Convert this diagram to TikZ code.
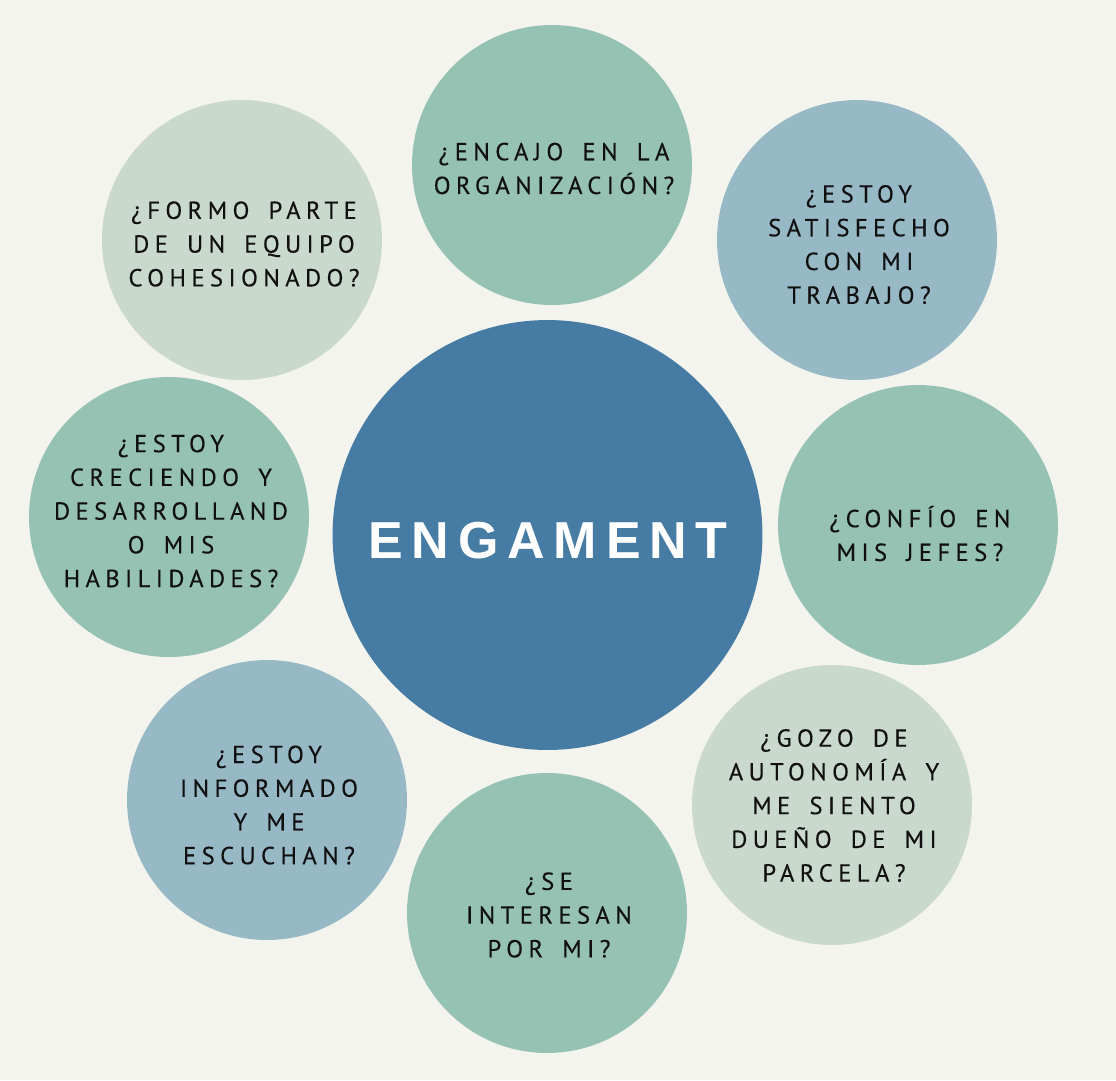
\documentclass[tikz,border=0pt]{standalone}
\usepackage{fontspec}
\setmainfont{PT Sans}
\newfontfamily\askfont[LetterSpace=22,WordSpace=1.6,FakeBold=0.3]{PT Sans}
\newfontfamily\titlefont[LetterSpace=17]{Liberation Sans}
\definecolor{paper}{HTML}{F3F4EE}
\definecolor{sage}{HTML}{96C2B4}
\definecolor{steel}{HTML}{97B9C5}
\definecolor{mist}{HTML}{CAD9CE}
\definecolor{core}{HTML}{467CA4}
\definecolor{ink}{HTML}{101010}
\begin{document}
\begin{tikzpicture}[x=0.02cm,y=-0.02cm,
    bubble/.style={circle,minimum size=5.6cm,inner sep=0pt},
    question/.style={align=center,text=ink,inner sep=0pt,
      font=\askfont\fontsize{14}{19.2}\selectfont}]
  \fill[paper] (0,0) rectangle (1116,1080);
  \node[circle,minimum size=8.6cm,inner sep=0pt,fill=core] (engament) at (547.5,535) {};
  \node[text=white,font=\titlefont\bfseries\fontsize{29.6}{34}\selectfont] (title) at (548,541) {ENGAMENT};
  \node[bubble,fill=sage] (encajo) at (552,165) {};
  \node[bubble,fill=steel] (trabajo) at (857,240) {};
  \node[bubble,fill=sage] (jefes) at (918,525) {};
  \node[bubble,fill=mist] (autonomia) at (832,805) {};
  \node[bubble,fill=sage] (interesan) at (547,913) {};
  \node[bubble,fill=steel] (informado) at (267,800) {};
  \node[bubble,fill=sage] (creciendo) at (169,517) {};
  \node[bubble,fill=mist] (equipo) at (242,240) {};
  \node[question] (t-encajo) at (554,168.5) {¿ENCAJO EN LA\\ORGANIZACIÓN?};
  \node[question] (t-trabajo) at (859,244.5) {¿ESTOY\\SATISFECHO\\CON MI\\TRABAJO?};
  \node[question] (t-jefes) at (920,533.5) {¿CONFÍO EN\\MIS JEFES?};
  \node[question] (t-autonomia) at (834,805.5) {¿GOZO DE\\AUTONOMÍA Y\\ME SIENTO\\DUEÑO DE MI\\PARCELA?};
  \node[question] (t-interesan) at (549,915) {¿SE\\INTERESAN\\POR MI?};
  \node[question] (t-informado) at (269,805) {¿ESTOY\\INFORMADO\\Y ME\\ESCUCHAN?};
  \node[question] (t-creciendo) at (171,511) {¿ESTOY\\CRECIENDO Y\\DESARROLLAND\\O MIS\\HABILIDADES?};
  \node[question] (t-equipo) at (244,244) {¿FORMO PARTE\\DE UN EQUIPO\\COHESIONADO?};
\end{tikzpicture}
\end{document}
